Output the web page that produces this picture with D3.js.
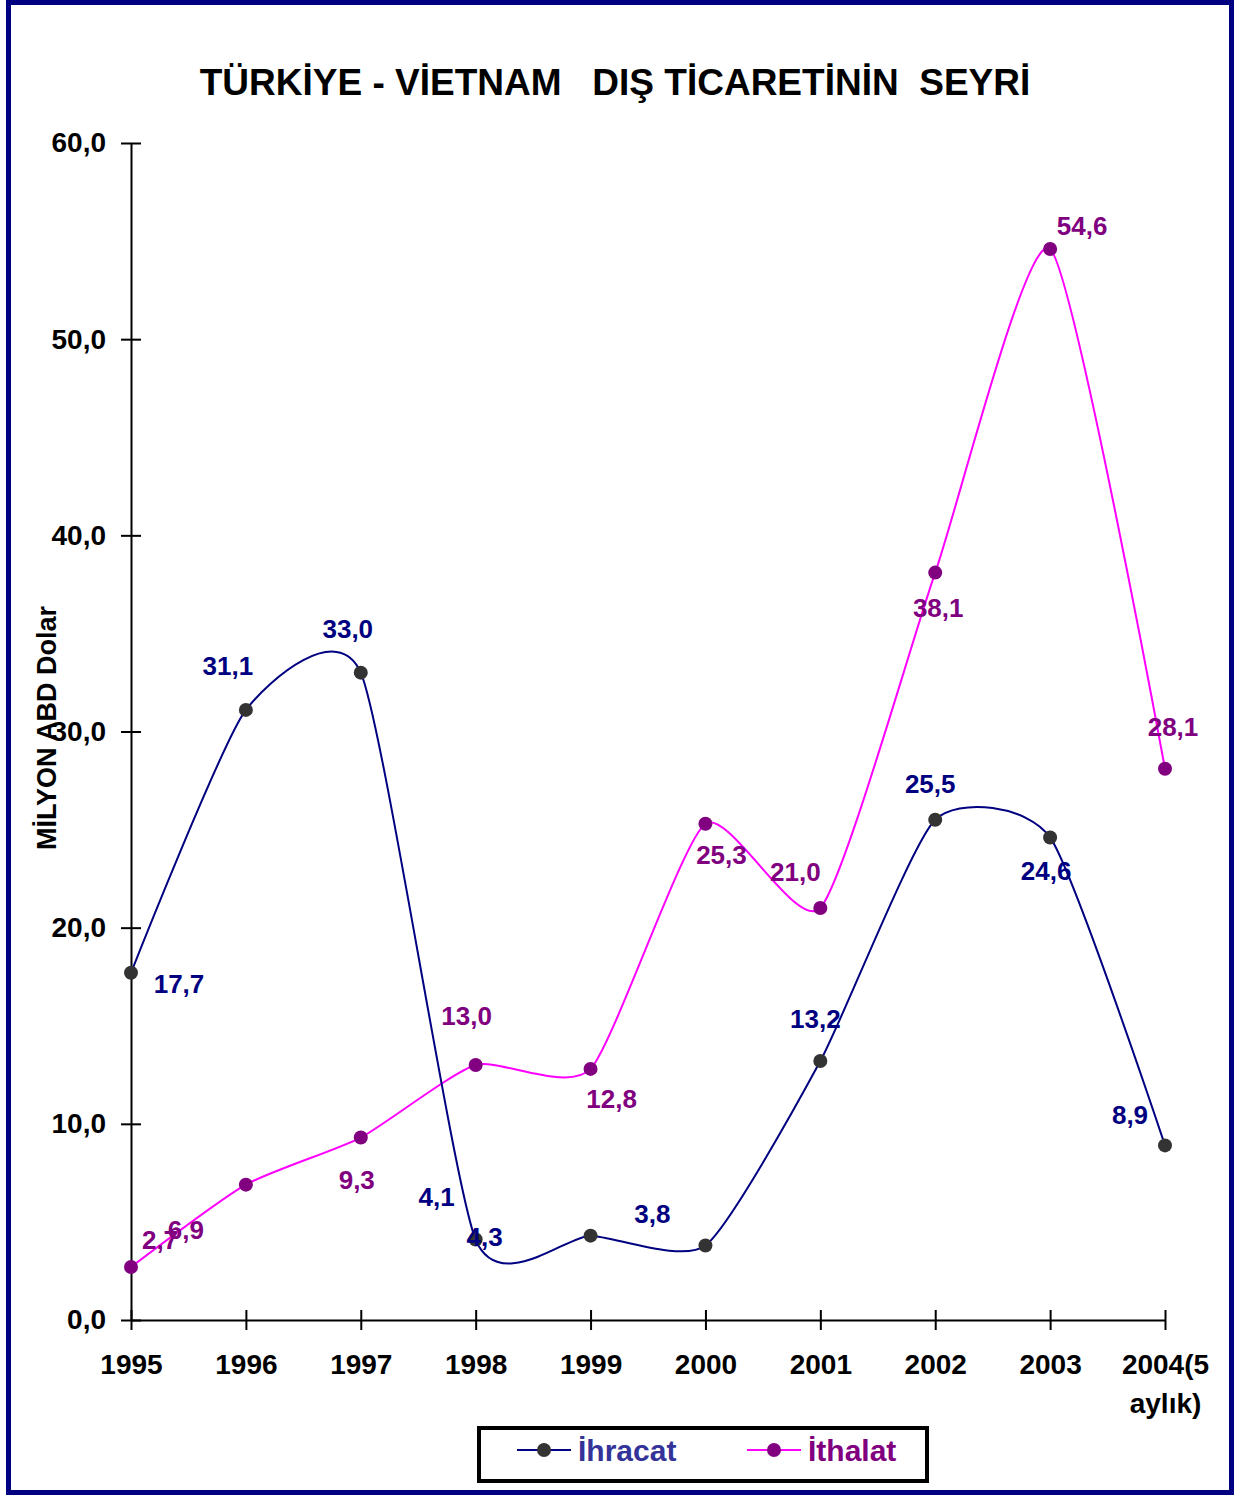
<!DOCTYPE html>
<html>
<head>
<meta charset="utf-8">
<script src="https://cdnjs.cloudflare.com/ajax/libs/d3/7.8.5/d3.min.js"></script>
<style>
  body { margin: 0; background: #fff; }
  text { font-family: "Liberation Sans", Arial, sans-serif; font-weight: bold; }
</style>
</head>
<body>
<script>
// years on the x axis (last one is the 5-month figure)
var years = ["1995", "1996", "1997", "1998", "1999", "2000", "2001", "2002", "2003", "2004(5"];
var ihracat = [17.7, 31.1, 33.0, 4.1, 4.3, 3.8, 13.2, 25.5, 24.6, 8.9];
var ithalat = [2.7, 6.9, 9.3, 13.0, 12.8, 25.3, 21.0, 38.1, 54.6, 28.1];
var yTicks = [0, 10, 20, 30, 40, 50, 60];

// where Excel dropped the value labels, relative to each point
var ihrOffsets = [[48, 11], [-18, -44], [-13, -44], [-39, -43], [-106, 1], [-53, -31], [-5, -42], [-5, -36], [-4, 34], [-35, -30]];
var ithOffsets = [[29, -27], [-60, 45], [-4, 42], [-9, -49], [21, 30], [16, 31], [-25, -36], [3, 35], [32, -23], [8, -42]];

var W = 1237, H = 1495;
var fmt = function (v) { return v.toFixed(1).replace(".", ","); };
var FONT = "Liberation Sans, Arial, sans-serif";

var svg = d3.select("body").append("svg").attr("width", W).attr("height", H);

// navy frame
svg.append("rect").attr("x", 8.5).attr("y", 2.5).attr("width", 1223).attr("height", 1490)
  .attr("fill", "#fff").attr("stroke", "#000080").attr("stroke-width", 5);

svg.append("text").attr("x", 615).attr("y", 95).attr("text-anchor", "middle")
  .attr("font-size", 37).attr("fill", "#000").style("white-space", "pre")
  .text("TÜRKİYE - VİETNAM   DIŞ TİCARETİNİN  SEYRİ");

var x = d3.scalePoint().domain(years).range([131, 1165]);
var y = d3.scaleLinear().domain([0, 60]).range([1320, 143]);

// y axis
var yAxis = svg.append("g").attr("transform", "translate(131,0)")
  .call(d3.axisLeft(y).tickValues(yTicks).tickSize(0).tickPadding(25).tickFormat(fmt));
yAxis.select(".domain").attr("stroke", "#000").attr("stroke-width", 2);
yAxis.selectAll(".tick text").attr("font-size", 28).attr("fill", "#000").attr("font-family", FONT);
yAxis.selectAll(".tick").append("line").attr("x1", -10).attr("x2", 10)
  .attr("stroke", "#000").attr("stroke-width", 2);

// x axis
var xAxis = svg.append("g").attr("transform", "translate(0,1320)")
  .call(d3.axisBottom(x).tickSize(0).tickPadding(34));
xAxis.select(".domain").attr("stroke", "#000").attr("stroke-width", 2);
xAxis.selectAll(".tick text").attr("font-size", 28).attr("fill", "#000").attr("font-family", FONT);
xAxis.selectAll(".tick").append("line").attr("y1", -10).attr("y2", 10)
  .attr("stroke", "#000").attr("stroke-width", 2);
xAxis.selectAll(".tick").filter(function (d) { return d === "2004(5"; })
  .append("text").attr("y", 93).attr("text-anchor", "middle").attr("font-size", 28)
  .attr("fill", "#000").attr("font-family", FONT).text("aylık)");

svg.append("text").attr("transform", "translate(56,728) rotate(-90)")
  .attr("text-anchor", "middle").attr("font-size", 27).attr("fill", "#000")
  .text("MİLYON ABD Dolar");

// excel-style smoothing, a bit tighter than plain catmull-rom
var line = d3.line()
  .x(function (d, i) { return x(years[i]); })
  .y(function (d) { return y(d); })
  .curve(d3.curveCardinal.tension(0.4));

var series = [
  { values: ithalat, line: "#FF00FF", marker: "#800080", label: "#800080", offsets: ithOffsets },
  { values: ihracat, line: "#000080", marker: "#333333", label: "#000080", offsets: ihrOffsets }
];

series.forEach(function (s) {
  svg.append("path").datum(s.values).attr("d", line)
    .attr("fill", "none").attr("stroke", s.line).attr("stroke-width", 2);
  svg.selectAll(null).data(s.values).enter().append("circle")
    .attr("cx", function (d, i) { return x(years[i]); })
    .attr("cy", function (d) { return y(d); })
    .attr("r", 7).attr("fill", s.marker);
});

series.forEach(function (s) {
  svg.selectAll(null).data(s.values).enter().append("text")
    .attr("x", function (d, i) { return x(years[i]) + s.offsets[i][0]; })
    .attr("y", function (d, i) { return y(d) + s.offsets[i][1] + 9; })
    .attr("text-anchor", "middle").attr("font-size", 26).attr("fill", s.label)
    .text(fmt);
});

// legend
var lg = svg.append("g");
lg.append("rect").attr("x", 479).attr("y", 1428).attr("width", 448).attr("height", 53)
  .attr("fill", "#fff").attr("stroke", "#000").attr("stroke-width", 4);
var legendItems = [
  { name: "İhracat", line: "#000080", marker: "#333333", text: "#333399", x: 517 },
  { name: "İthalat", line: "#FF00FF", marker: "#800080", text: "#800080", x: 747 }
];
legendItems.forEach(function (d) {
  lg.append("line").attr("x1", d.x).attr("x2", d.x + 54).attr("y1", 1450).attr("y2", 1450)
    .attr("stroke", d.line).attr("stroke-width", 2);
  lg.append("circle").attr("cx", d.x + 27).attr("cy", 1450).attr("r", 7).attr("fill", d.marker);
  lg.append("text").attr("x", d.x + 61).attr("y", 1461).attr("font-size", 30)
    .attr("fill", d.text).text(d.name);
});
</script>
</body>
</html>
